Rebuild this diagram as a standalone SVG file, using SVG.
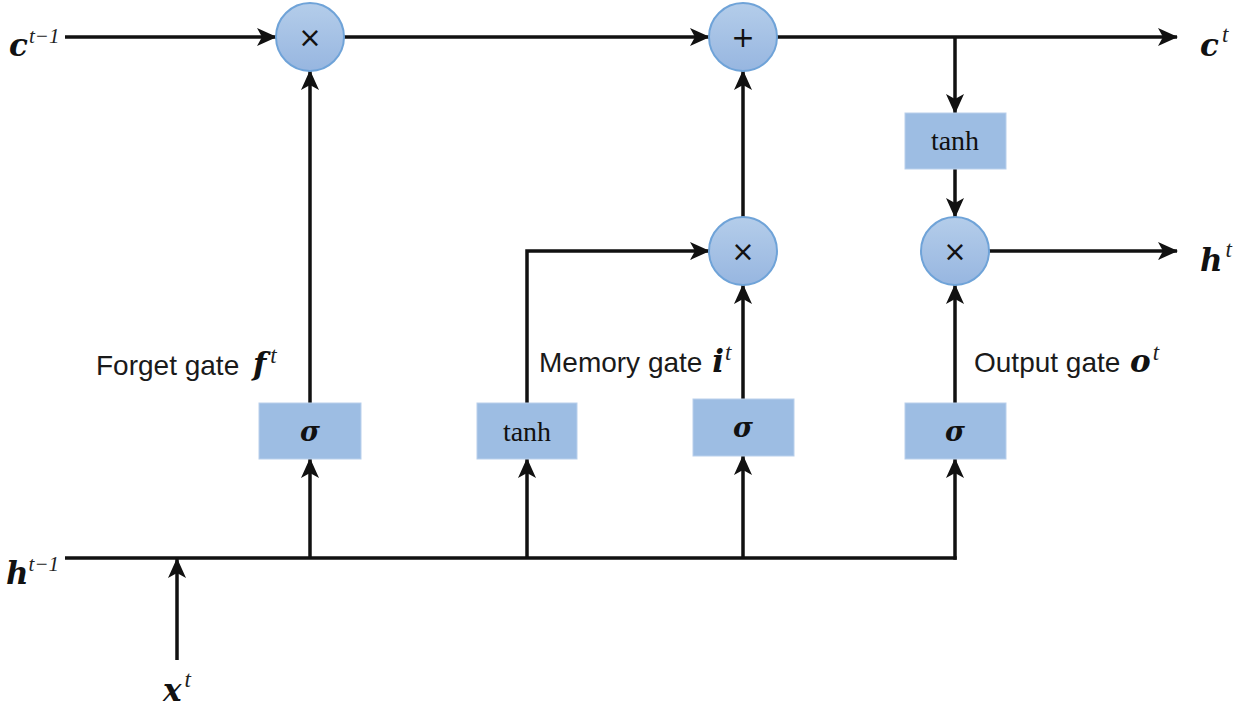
<svg xmlns="http://www.w3.org/2000/svg" width="1245" height="708" viewBox="0 0 1245 708">
<style>
.ln{stroke:#111;stroke-width:3.5;fill:none}
.arr{marker-end:url(#ah)}
.op{fill:url(#cg);stroke:#6fa3d8;stroke-width:2}
.bx{fill:#9dbde3;stroke:#b9d0ec;stroke-width:1}
.sym{font-family:"DejaVu Sans",sans-serif;font-size:28px;fill:#111;text-anchor:middle}
.tanh{font-family:"Liberation Serif",serif;font-size:28px;fill:#111;text-anchor:middle}
.sig{font-family:"DejaVu Serif",serif;font-weight:bold;font-style:italic;font-size:27px;fill:#111;text-anchor:middle}
.lbl{font-family:"Liberation Sans",Arial,sans-serif;font-size:28px;fill:#1a1a1a}
.m{font-family:"DejaVu Serif",serif;font-weight:bold;font-style:italic;font-size:31px;fill:#111}
.sup{font-family:"Liberation Serif",serif;font-style:italic;font-weight:normal;font-size:23px;fill:#222}
.sup2{font-family:"Liberation Serif",serif;font-style:italic;font-weight:normal;font-size:21px;fill:#222}
</style>
<defs>
<linearGradient id="cg" x1="0" y1="0" x2="0" y2="1">
<stop offset="0" stop-color="#b4cdea"/>
<stop offset="1" stop-color="#97b6e0"/>
</linearGradient>
<marker id="ah" viewBox="0 0 20 18" refX="19" refY="9" markerWidth="20" markerHeight="18" markerUnits="userSpaceOnUse" orient="auto">
<path d="M0,0 L20,9 L0,18 L5,9 Z" fill="#111"/>
</marker>
</defs>
<g id="connectors">
<line class="ln arr" x1="65" y1="37" x2="276" y2="37"/>
<line class="ln arr" x1="344" y1="37" x2="709" y2="37"/>
<line class="ln arr" x1="777" y1="37" x2="1177" y2="37"/>
<line class="ln arr" x1="955" y1="37" x2="955" y2="113"/>
<line class="ln arr" x1="955" y1="169" x2="955" y2="217"/>
<line class="ln arr" x1="989" y1="251" x2="1177" y2="251"/>
<line class="ln" x1="65" y1="558" x2="956.7" y2="558"/>
<line class="ln arr" x1="177" y1="660" x2="177" y2="559"/>
<line class="ln arr" x1="310" y1="558" x2="310" y2="459"/>
<line class="ln arr" x1="310" y1="403" x2="310" y2="71"/>
<line class="ln arr" x1="527" y1="558" x2="527" y2="459"/>
<polyline class="ln arr" points="527,403 527,251 709,251"/>
<line class="ln arr" x1="743" y1="558" x2="743" y2="456"/>
<line class="ln arr" x1="743" y1="399" x2="743" y2="285"/>
<line class="ln arr" x1="743" y1="217" x2="743" y2="71"/>
<line class="ln arr" x1="955" y1="559.7" x2="955" y2="459"/>
<line class="ln arr" x1="955" y1="403" x2="955" y2="285"/>
</g>
<g id="mul-forget"><circle class="op" cx="310" cy="37" r="34"/><text class="sym" x="310" y="47">×</text></g>
<g id="add-cell"><circle class="op" cx="743" cy="37" r="34"/><text class="sym" x="743" y="47">+</text></g>
<g id="mul-memory"><circle class="op" cx="743" cy="251" r="34"/><text class="sym" x="743" y="261">×</text></g>
<g id="mul-output"><circle class="op" cx="955" cy="251" r="34"/><text class="sym" x="955" y="261">×</text></g>
<g id="tanh-cell"><rect class="bx" x="905" y="113" width="101" height="56"/><text class="tanh" x="955" y="150">tanh</text></g>
<g id="sigma-forget"><rect class="bx" x="259" y="403" width="102" height="56"/><text class="sig" x="310" y="441">σ</text></g>
<g id="tanh-memory"><rect class="bx" x="477" y="403" width="100" height="56"/><text class="tanh" x="527" y="441">tanh</text></g>
<g id="sigma-memory"><rect class="bx" x="693" y="399" width="101" height="57"/><text class="sig" x="743" y="437">σ</text></g>
<g id="sigma-output"><rect class="bx" x="905" y="403" width="101" height="56"/><text class="sig" x="955" y="441">σ</text></g>
<g id="labels">
<text class="m" x="9" y="56">c<tspan class="sup2" dx="1" dy="-13">t−1</tspan></text>
<text class="m" x="1200" y="56">c<tspan class="sup" dx="3" dy="-14">t</tspan></text>
<text class="m" x="1200" y="271">h<tspan class="sup" dx="3" dy="-14">t</tspan></text>
<text class="m" x="6" y="584">h<tspan class="sup2" dx="0" dy="-13">t−1</tspan></text>
<text class="m" x="163" y="701">x<tspan class="sup" dx="3" dy="-14">t</tspan></text>
<text class="lbl" x="96" y="375">Forget gate <tspan class="m" dx="6">f</tspan><tspan class="sup" dx="4" dy="-12">t</tspan></text>
<text class="lbl" x="539" y="372">Memory gate <tspan class="m" dx="2">i</tspan><tspan class="sup" dx="1" dy="-12">t</tspan></text>
<text class="lbl" x="974" y="372">Output gate <tspan class="m" dx="2">o</tspan><tspan class="sup" dx="2" dy="-12">t</tspan></text>
</g>
</svg>
